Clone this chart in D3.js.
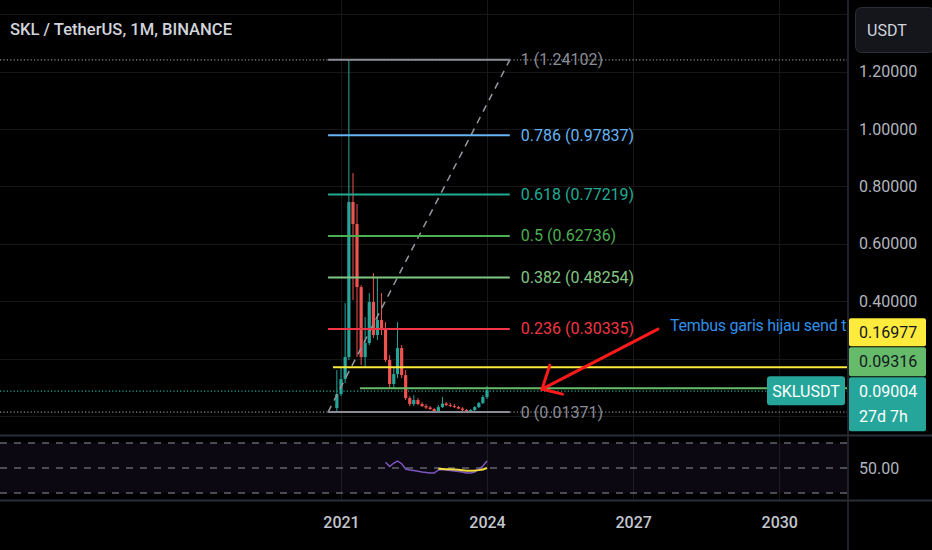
<!DOCTYPE html>
<html><head><meta charset="utf-8">
<script src="https://cdn.jsdelivr.net/npm/d3@7"></script>
<style>html,body{margin:0;padding:0;background:#000;overflow:hidden}text{font-family:Roboto,"Noto Sans",sans-serif}</style>
</head><body><svg id="c" width="932" height="550"></svg>
<script>
// ---------- data ----------
const months = ["2020-12","2021-01","2021-02","2021-03","2021-04","2021-05","2021-06","2021-07","2021-08","2021-09","2021-10","2021-11",
"2021-12","2022-01","2022-02","2022-03","2022-04","2022-05","2022-06","2022-07","2022-08","2022-09","2022-10","2022-11",
"2022-12","2023-01","2023-02","2023-03","2023-04","2023-05","2023-06","2023-07","2023-08","2023-09","2023-10","2023-11","2023-12","2024-01"];
const open  = [0.0276,0.0764,0.1287,0.2053,0.7454,0.6688,0.4492,0.2053,0.2541,0.3970,0.2820,0.3343,0.3064,0.1949,0.1113,0.1461,0.2367,0.1426,0.0625,0.0416,0.0555,0.0416,0.0346,0.0294,0.0242,0.0172,0.0311,0.0433,0.0381,0.0346,0.0311,0.0259,0.0207,0.0182,0.0207,0.0311,0.0451,0.0660];
const high  = [0.1600,0.1670,0.3935,1.24102,0.8465,0.7385,0.4562,0.3447,0.4284,0.4980,0.4841,0.4284,0.3273,0.2123,0.1670,0.3273,0.2472,0.1600,0.0695,0.0730,0.0625,0.0486,0.0416,0.0346,0.0276,0.0381,0.0660,0.0486,0.0451,0.0416,0.0346,0.0311,0.0242,0.0242,0.0346,0.0486,0.0730,0.1043];
const low   = [0.01371,0.0695,0.1148,0.1949,0.4040,0.2053,0.1775,0.1705,0.2472,0.2716,0.2646,0.2820,0.1879,0.0973,0.0973,0.1322,0.1322,0.0555,0.0346,0.0346,0.0381,0.0311,0.0242,0.0207,0.0150,0.0160,0.0276,0.0346,0.0311,0.0276,0.0242,0.0172,0.0155,0.0155,0.0172,0.0276,0.0416,0.0590];
const close = [0.0764,0.1287,0.2053,0.7454,0.6688,0.4492,0.2053,0.2541,0.3970,0.2820,0.3343,0.3064,0.1949,0.1113,0.1461,0.2367,0.1426,0.0625,0.0416,0.0555,0.0416,0.0346,0.0294,0.0242,0.0172,0.0311,0.0433,0.0381,0.0346,0.0311,0.0259,0.0207,0.0182,0.0207,0.0311,0.0451,0.0660,0.09004];

const rsiMonths = months.slice(12);
const rsi = [54.6,51.2,54.0,55.6,53.4,49.2,48.4,48.0,47.4,46.8,46.4,46.0,46.0,48.4,48.8,48.4,48.0,47.6,47.2,46.8,46.0,46.0,46.8,49.2,51.6,55.6];
const rsiMaMonths = months.slice(25);
const rsiMa = [49.4,49.2,49.0,49.0,48.8,48.6,48.2,47.8,47.8,48.0,48.3,48.8,50.0];

const fibRatios = ["1","0.786","0.618","0.5","0.382","0.236","0"];
const fibPrices = [1.24102,0.97837,0.77219,0.62736,0.48254,0.30335,0.01371];
const fibColors = ["#8a8d96","#64b5f6","#22ab94","#4caf50","#81c784","#f23645","#8a8d96"];
const fibStart = "2020-09-26", fibEnd = "2024-06-20";

const yellowLevel = 0.16977, yellowStart = "2020-11-02";
const greenLevel = 0.09316, greenStart = "2021-05-23";
const lastPrice = 0.09004, symbol = "SKLUSDT", countdown = "27d 7h";
const gridTicks = [0,0.2,0.4,0.6,0.8,1.0,1.2,1.4];
const priceTicks = [0.4,0.6,0.8,1.0,1.2];
const yearTicks = ["2021","2024","2027","2030"];
const rsiLevels = [70,50,30];
const title = "SKL / TetherUS, 1M, BINANCE";
const note = "Tembus garis hijau send t";
const arrowFrom = {date:"2027-07-06", price:0.3029};
const arrowTo = {date:"2025-02-17", price:0.0938};

// ---------- setup ----------
const W=932,H=550, paneR=847, mainB=435, rsiT=436, rsiB=500;
const pm = d3.utcParse("%Y-%m"), pd = d3.utcParse("%Y-%m-%d"), py = d3.utcParse("%Y");
const svg = d3.select("#c");
svg.append("rect").attr("width",W).attr("height",H).attr("fill","#000");
const x = d3.scaleUtc().domain([py("2021"),py("2024")]).range([341,487]);
const y = d3.scaleLinear().domain([0,1.2]).range([416,71.6]);
const yR = d3.scaleLinear().domain([30,70]).range([493,443]);

const defs = svg.append("defs");
defs.append("clipPath").attr("id","cm").append("rect").attr("x",0).attr("y",0).attr("width",paneR).attr("height",mainB);
defs.append("clipPath").attr("id","cr").append("rect").attr("x",0).attr("y",rsiT).attr("width",paneR).attr("height",rsiB-rsiT);

// grids
const grid = svg.append("g");
grid.selectAll(".hg").data(gridTicks).join("line").attr("x1",0).attr("x2",paneR)
  .attr("y1",d=>Math.round(y(d))+0.5).attr("y2",d=>Math.round(y(d))+0.5).attr("stroke","#171717");
grid.selectAll(".vg").data(yearTicks).join("line").attr("y1",0).attr("y2",rsiB)
  .attr("x1",d=>Math.round(x(py(d)))+0.5).attr("x2",d=>Math.round(x(py(d)))+0.5).attr("stroke","#171717");

// main pane
const main = svg.append("g").attr("clip-path","url(#cm)");
main.selectAll(".dl").data([fibPrices[0],fibPrices[6]]).join("line").attr("x1",0).attr("x2",paneR)
  .attr("y1",d=>y(d)).attr("y2",d=>y(d)).attr("stroke","#8a8d96").attr("stroke-width",1.2).attr("stroke-dasharray","1.2,2.2");
main.append("line").attr("x1",0).attr("x2",paneR).attr("y1",y(lastPrice)+1).attr("y2",y(lastPrice)+1)
  .attr("stroke","#26a69a").attr("stroke-width",1.2).attr("stroke-dasharray","1.2,2.2");

// candles
const bars = months.map((m,i)=>({d:pm(m),o:open[i],h:high[i],l:low[i],c:close[i]}));
const cg = main.append("g");
cg.selectAll(".w").data(bars).join("line")
  .attr("x1",d=>x(d.d)).attr("x2",d=>x(d.d)).attr("y1",d=>y(d.h)).attr("y2",d=>y(d.l))
  .attr("stroke",d=>d.c>=d.o?"#26a69a":"#ef5350").attr("stroke-width",1);
cg.selectAll(".b").data(bars).join("rect")
  .attr("x",d=>x(d.d)-1.6).attr("width",3.2)
  .attr("y",d=>y(Math.max(d.o,d.c))).attr("height",d=>Math.max(1,Math.abs(y(d.o)-y(d.c))))
  .attr("fill",d=>d.c>=d.o?"#26a69a":"#ef5350");

// horizontal rays
main.append("line").attr("x1",x(pd(yellowStart))).attr("x2",paneR).attr("y1",y(yellowLevel)).attr("y2",y(yellowLevel))
  .attr("stroke","#ffeb3b").attr("stroke-width",2);
main.append("line").attr("x1",x(pd(greenStart))).attr("x2",paneR).attr("y1",y(greenLevel)-1).attr("y2",y(greenLevel)-1)
  .attr("stroke","#66bb6a").attr("stroke-width",2);

// fib
const fx1 = x(pd(fibStart)), fx2 = x(pd(fibEnd));
main.append("line").attr("x1",fx1).attr("y1",y(fibPrices[6])).attr("x2",fx2).attr("y2",y(fibPrices[0]))
  .attr("stroke","#9598a1").attr("stroke-width",1.5).attr("stroke-dasharray","7,6");
const fib = main.append("g");
fib.selectAll("line").data(fibPrices).join("line").attr("x1",fx1).attr("x2",fx2)
  .attr("y1",d=>y(d)).attr("y2",d=>y(d)).attr("stroke",(d,i)=>fibColors[i]).attr("stroke-width",2);
fib.selectAll("text").data(fibPrices).join("text").attr("x",fx2+11).attr("y",d=>y(d))
  .attr("dominant-baseline","central").attr("font-size",16).attr("fill",(d,i)=>fibColors[i])
  .text((d,i)=>`${fibRatios[i]} (${d.toFixed(5)})`);

// annotation arrow
const ax1=x(pd(arrowFrom.date)), ay1=y(arrowFrom.price), ax2=x(pd(arrowTo.date)), ay2=y(arrowTo.price);
const ang = Math.atan2(ay1-ay2, ax1-ax2);
const arm = (a,L)=>[ax2+L*Math.cos(ang+a), ay2+L*Math.sin(ang+a)];
const ar = main.append("g").attr("stroke","#ff1a1a").attr("stroke-width",3).attr("stroke-linecap","round").attr("fill","none");
ar.append("line").attr("x1",ax1).attr("y1",ay1).attr("x2",ax2).attr("y2",ay2);
const a1=arm(-0.78,25), a2=arm(0.72,21);
ar.append("polyline").attr("points",`${a1[0]},${a1[1]} ${ax2},${ay2} ${a2[0]},${a2[1]}`);
main.append("text").attr("x",670).attr("y",325).attr("dominant-baseline","central").attr("font-size",16)
  .attr("letter-spacing","-0.25").attr("fill","#2f8fe8").text(note);

// symbol label
main.append("rect").attr("x",767).attr("y",y(lastPrice)-14).attr("width",78).attr("height",29).attr("rx",3).attr("fill","#26a69a");
main.append("text").attr("x",806).attr("y",y(lastPrice)+1).attr("text-anchor","middle").attr("dominant-baseline","central")
  .attr("font-size",16).attr("fill","#fff").text(symbol);

// title
svg.append("text").attr("x",10).attr("y",29).attr("dominant-baseline","central").attr("font-size",17).attr("font-weight",500)
  .attr("fill","#d1d4dc").attr("textLength",222).attr("lengthAdjust","spacingAndGlyphs").text(title);

// RSI pane
const rp = svg.append("g").attr("clip-path","url(#cr)");
rp.append("rect").attr("x",0).attr("width",paneR).attr("y",yR(70)).attr("height",yR(30)-yR(70)).attr("fill","rgba(126,87,194,0.09)");
rp.selectAll(".rl").data(rsiLevels).join("line").attr("x1",0).attr("x2",paneR).attr("y1",d=>yR(d)).attr("y2",d=>yR(d))
  .attr("stroke","#8f9199").attr("stroke-width",1).attr("stroke-dasharray","7,7");
rp.append("path").datum(rsiMonths.map((m,i)=>[x(pm(m)),yR(rsi[i])])).attr("d",d3.line())
  .attr("fill","none").attr("stroke","#7e57c2").attr("stroke-width",1.5);
rp.append("path").datum(rsiMaMonths.map((m,i)=>[x(pm(m)),yR(rsiMa[i])])).attr("d",d3.line())
  .attr("fill","none").attr("stroke","#f5dc3c").attr("stroke-width",2);

// separators
svg.append("line").attr("x1",0).attr("x2",W).attr("y1",mainB+0.5).attr("y2",mainB+0.5).attr("stroke","#2a2e39").attr("stroke-width",2);
svg.append("line").attr("x1",0).attr("x2",W).attr("y1",rsiB+0.5).attr("y2",rsiB+0.5).attr("stroke","#2a2e39").attr("stroke-width",2);
svg.append("line").attr("x1",paneR+1).attr("x2",paneR+1).attr("y1",0).attr("y2",H).attr("stroke","#2a2e39").attr("stroke-width",1.5);

// right price axis
const ya = svg.append("g").attr("transform",`translate(${paneR+1},0)`)
  .call(d3.axisRight(y).tickValues(priceTicks).tickFormat(d3.format(".5f")).tickSize(0).tickPadding(11));
ya.select(".domain").remove();
ya.selectAll("text").attr("font-size",16).attr("fill","#b2b5be").attr("font-family","Roboto");
const ra = svg.append("g").attr("transform",`translate(${paneR+1},0)`)
  .call(d3.axisRight(yR).tickValues([50]).tickFormat(d3.format(".2f")).tickSize(0).tickPadding(11));
ra.select(".domain").remove();
ra.selectAll("text").attr("font-size",16).attr("fill","#b2b5be").attr("font-family","Roboto");
const xa = svg.append("g").attr("transform",`translate(0,${rsiB+1})`)
  .call(d3.axisBottom(x).tickValues(yearTicks.map(py)).tickFormat(d3.utcFormat("%Y")).tickSize(0).tickPadding(16));
xa.select(".domain").remove();
xa.selectAll("text").attr("font-size",16).attr("fill","#c3c6ce").attr("font-family","Roboto").attr("font-weight",500);

// price boxes on axis (stacked)
const boxX = paneR+2, boxW = 77;
const lastTop = y(lastPrice)-13;
const boxes = [
  {v:lastPrice, top:lastTop, h:54, fill:"#26a69a", color:"#fff", sub:countdown},
  {v:greenLevel, top:lastTop-30, h:29, fill:"#66bb6a", color:"#131722"},
  {v:yellowLevel, top:lastTop-59, h:28, fill:"#ffeb3b", color:"#131722"}
];
const bg = svg.append("g");
boxes.forEach(b=>{
  bg.append("rect").attr("x",boxX).attr("y",b.top).attr("width",boxW).attr("height",b.h).attr("rx",2).attr("fill",b.fill);
  bg.append("text").attr("x",paneR+12).attr("y",b.top+14.5).attr("dominant-baseline","central").attr("font-size",16)
    .attr("fill",b.color).text(d3.format(".5f")(b.v));
  if(b.sub) bg.append("text").attr("x",paneR+12).attr("y",b.top+39).attr("dominant-baseline","central").attr("font-size",16)
    .attr("fill",b.color).text(b.sub);
});

// currency button
svg.append("rect").attr("x",855.5).attr("y",7.5).attr("width",79).attr("height",45).attr("rx",6)
  .attr("fill","#14161c").attr("stroke","#2a2e39");
svg.append("text").attr("x",867).attr("y",30).attr("dominant-baseline","central").attr("font-size",16)
  .attr("fill","#d1d4dc").text("USDT");
</script></body></html>
